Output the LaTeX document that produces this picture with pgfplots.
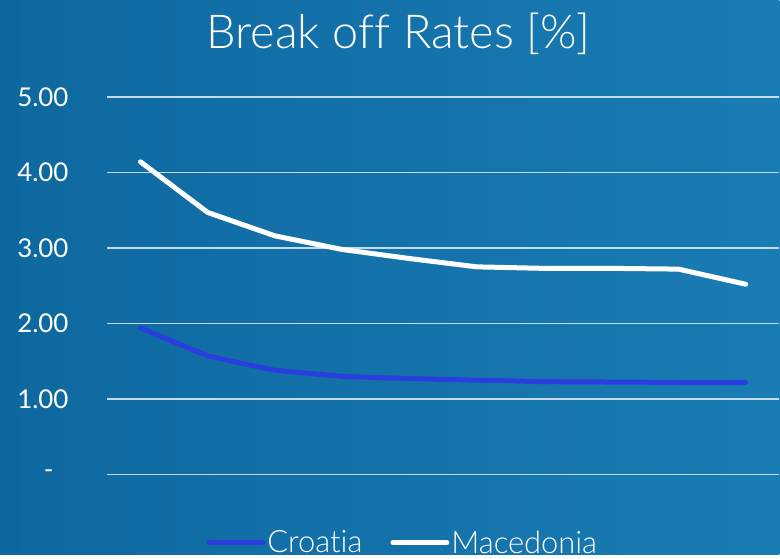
\documentclass[border=0pt]{standalone}
\usepackage{fontspec}
\setmainfont{Lato}[UprightFont=* Light, Ligatures=NoCommon]
\newfontfamily\regfont{Lato}
\usepackage{pgfplots}
\pgfplotsset{compat=1.18}
\definecolor{bgA}{RGB}{14,104,160}
\definecolor{bgB}{RGB}{26,124,180}
\definecolor{croatia}{RGB}{42,62,224}
\begin{document}
\begin{tikzpicture}
\shade[left color=bgA, right color=bgB] (0,0) rectangle (780bp,555bp);
\node[text=white, font=\fontsize{47}{52}\selectfont] at (399bp,521bp) {Break off Rates [\%]};
\begin{axis}[
  at={(107bp,80bp)}, anchor=south west,
  scale only axis, width=673bp, height=378bp,
  xmin=-0.5, xmax=9.5, ymin=0, ymax=5,
  xtick=\empty,
  ytick={0,1,2,3,4,5},
  yticklabels={-\hspace*{15bp},1.00,2.00,3.00,4.00,5.00},
  yticklabel style={text=white, font=\regfont\fontsize{26}{30}\selectfont, anchor=east, xshift=-35bp},
  major tick length=0pt,
  axis line style={draw=none},
  ymajorgrids, grid style={draw=white, opacity=0.75, line width=1.4bp},
  clip=false,
  legend columns=2,
  legend style={at={(0.44,-0.18)}, anchor=center, draw=none, fill=none,
    text=white, font=\fontsize{31}{34}\selectfont,
    /tikz/every even column/.append style={column sep=26bp}},
  legend image code/.code={\draw[#1, line width=5bp, line cap=round] (0bp,0bp) -- (54bp,0bp);},
]
\addplot[croatia, line width=5bp, line cap=round, line join=round] coordinates {
(0,1.94) (1,1.57) (2,1.38) (3,1.30) (4,1.27) (5,1.25) (6,1.23) (7,1.225) (8,1.22) (9,1.22)};
\addlegendentry{Croatia}
\addplot[white, line width=5bp, line cap=round, line join=round] coordinates {
(0,4.14) (1,3.47) (2,3.16) (3,2.98) (4,2.86) (5,2.75) (6,2.73) (7,2.73) (8,2.72) (9,2.52)};
\addlegendentry{Macedonia}
\end{axis}
\end{tikzpicture}
\end{document}
